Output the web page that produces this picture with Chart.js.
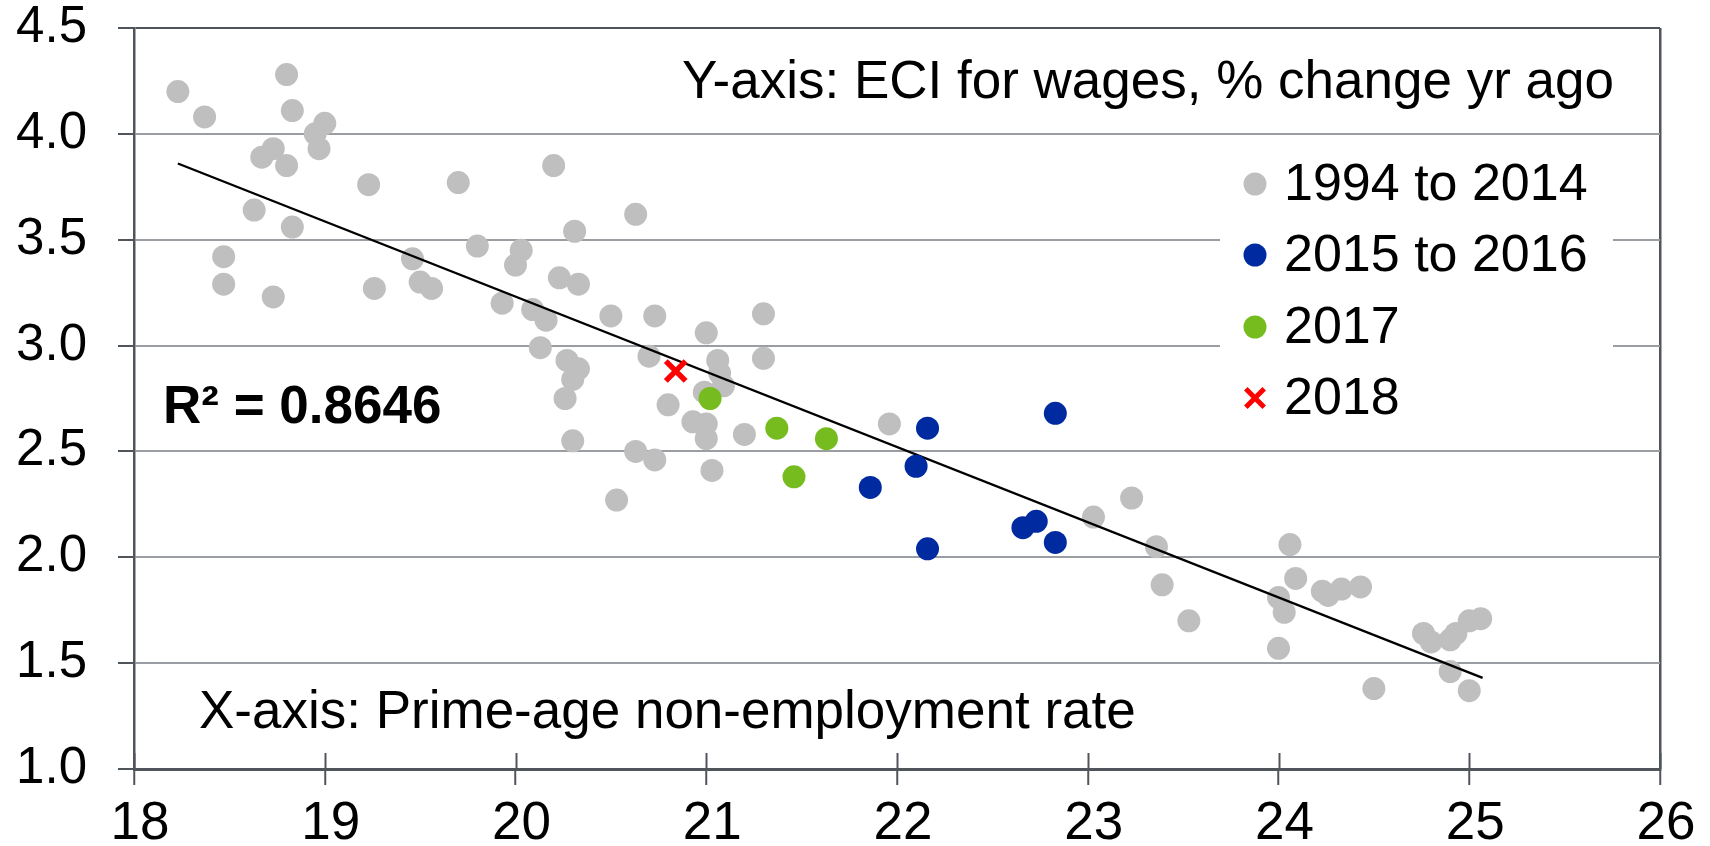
<!DOCTYPE html>
<html>
<head>
<meta charset="utf-8">
<script src="https://cdn.jsdelivr.net/npm/chart.js"></script>
<style>
  html, body { margin: 0; padding: 0; background: #fff; }
  #wrap { width: 1710px; height: 846px; }
</style>
</head>
<body>
<div id="wrap"><canvas id="chart" width="1710" height="846"></canvas></div>
<script>
// prime-age non-employment rate (x) vs ECI wages % chg yr ago (y)
const years1994to2014 = [
    [18.23, 4.20], [18.37, 4.08], [18.80, 4.28], [18.83, 4.11], [19.00, 4.05],
    [18.95, 4.00], [18.97, 3.93], [18.73, 3.93], [18.67, 3.89], [18.80, 3.85],
    [18.63, 3.64], [18.83, 3.56], [18.47, 3.42], [18.47, 3.29], [18.73, 3.23],
    [19.23, 3.76], [19.26, 3.27], [19.46, 3.41], [19.50, 3.30], [19.56, 3.27],
    [19.70, 3.77], [19.80, 3.47], [20.03, 3.45], [20.00, 3.38], [19.93, 3.20],
    [20.20, 3.85], [20.09, 3.17], [20.16, 3.12], [20.13, 2.99], [20.23, 3.32],
    [20.33, 3.29], [20.31, 3.54], [20.63, 3.62], [20.50, 3.14], [20.73, 3.14],
    [21.30, 3.15], [21.00, 3.06], [20.70, 2.95], [21.06, 2.93], [21.30, 2.94],
    [20.27, 2.93], [20.33, 2.89], [20.30, 2.84], [21.07, 2.87], [21.09, 2.81],
    [20.26, 2.75], [20.80, 2.72], [20.99, 2.78], [20.93, 2.64], [21.00, 2.63],
    [21.00, 2.56], [21.20, 2.58], [20.30, 2.55], [20.63, 2.50], [20.73, 2.46],
    [21.03, 2.41], [20.53, 2.27], [21.96, 2.63], [23.23, 2.28], [23.03, 2.19],
    [23.36, 2.05], [23.39, 1.87], [23.53, 1.70], [24.06, 2.06], [24.09, 1.90],
    [24.00, 1.81], [24.03, 1.74], [24.00, 1.57], [24.23, 1.84], [24.26, 1.82],
    [24.33, 1.85], [24.43, 1.86], [24.50, 1.38], [24.76, 1.64], [24.80, 1.60],
    [24.90, 1.61], [24.93, 1.64], [25.00, 1.70], [25.06, 1.71], [24.90, 1.46],
    [25.00, 1.37]
];
const years2015to2016 = [
    [22.16, 2.61], [22.10, 2.43], [21.86, 2.33], [22.16, 2.04],
    [22.83, 2.68], [22.66, 2.14], [22.73, 2.17], [22.83, 2.07]
];
const year2017 = [[21.02, 2.75], [21.37, 2.61], [21.63, 2.56], [21.46, 2.38]];
const year2018 = [[20.84, 2.88]];
const trendLine = [[18.23, 3.86], [25.07, 1.43]];

const seriesLabels = ['1994 to 2014', '2015 to 2016', '2017', '2018'];
const xTicks = [18, 19, 20, 21, 22, 23, 24, 25, 26];
const yTicks = [1.0, 1.5, 2.0, 2.5, 3.0, 3.5, 4.0, 4.5];

const FONT = '"Liberation Sans", Arial, sans-serif';
const NARROW = '"Liberation Sans Narrow", "Arial Narrow", "Liberation Sans", sans-serif';
const DARK = '#50555b';
const GRID = '#9a9ea3';
const colors = ['#bfbfbf', '#002a9f', '#77bc1f', '#ff0000'];

function toXY(arr) {
    return arr.map(p => ({ x: p[0], y: p[1] }));
}

// legend box, axis notes and crossing x ticks
const extras = {
    id: 'extras',
    beforeDatasetsDraw(chart) {
        const ctx = chart.ctx;
        ctx.save();
        ctx.fillStyle = '#fff';
        ctx.fillRect(1220, 150, 393, 280);
        // x ticks also poke up into the plot
        const xs = chart.scales.x;
        const bottom = chart.chartArea.bottom;
        ctx.strokeStyle = DARK;
        ctx.lineWidth = 2;
        xTicks.forEach(v => {
            const px = Math.round(xs.getPixelForValue(v)) + 0.5;
            ctx.beginPath();
            ctx.moveTo(px, bottom - 16);
            ctx.lineTo(px, bottom);
            ctx.stroke();
        });
        ctx.restore();
    },
    afterDatasetsDraw(chart) {
        const ctx = chart.ctx;
        ctx.save();
        ctx.fillStyle = '#000';
        ctx.textBaseline = 'alphabetic';
        ctx.font = '53px ' + FONT;
        ctx.textAlign = 'right';
        ctx.fillText('Y-axis: ECI for wages, % change yr ago', 1614, 98);
        ctx.textAlign = 'left';
        ctx.fillText('X-axis: Prime-age non-employment rate', 199, 728);
        ctx.font = 'bold 53px ' + FONT;
        ctx.fillText('R\u00b2 = 0.8646', 163, 423);

        // legend
        const rowY = [184, 255, 327, 398];
        ctx.font = '52px ' + FONT;
        ctx.textBaseline = 'middle';
        seriesLabels.forEach((lab, i) => {
            ctx.fillStyle = colors[i];
            ctx.strokeStyle = colors[i];
            ctx.lineWidth = 5;
            const style = i === 3 ? 'crossRot' : 'circle';
            Chart.helpers.drawPoint(ctx, {
                pointStyle: style, radius: i === 3 ? 13 : 11.5,
                borderWidth: i === 3 ? 5 : 0, rotation: 0
            }, 1255, rowY[i]);
            ctx.fillStyle = '#000';
            ctx.fillText(lab, 1284, rowY[i] + 2);
        });
        ctx.restore();
    }
};

const pointSet = (label, data, color, order) => ({
    type: 'scatter',
    label: label,
    data: toXY(data),
    backgroundColor: color,
    borderColor: color,
    borderWidth: 0,
    pointRadius: 11.5,
    pointHoverRadius: 11.5,
    order: order
});

new Chart(document.getElementById('chart').getContext('2d'), {
    type: 'scatter',
    data: {
        datasets: [
            pointSet(seriesLabels[0], years1994to2014, colors[0], 5),
            {
                type: 'line',
                label: 'trend',
                data: toXY(trendLine),
                borderColor: '#000',
                borderWidth: 2.4,
                pointRadius: 0,
                fill: false,
                order: 4
            },
            pointSet(seriesLabels[1], years2015to2016, colors[1], 3),
            pointSet(seriesLabels[2], year2017, colors[2], 2),
            {
                type: 'scatter',
                label: seriesLabels[3],
                data: toXY(year2018),
                borderColor: colors[3],
                backgroundColor: colors[3],
                pointStyle: 'crossRot',
                pointRadius: 14,
                borderWidth: 5.5,
                order: 1
            }
        ]
    },
    options: {
        responsive: false,
        animation: false,
        devicePixelRatio: 1,
        layout: { padding: { top: 0, right: 50, left: 0, bottom: 0 } },
        plugins: {
            legend: { display: false },
            tooltip: { enabled: false }
        },
        scales: {
            x: {
                type: 'linear',
                min: 18,
                max: 26,
                afterBuildTicks: (scale) => { scale.ticks = xTicks.map(v => ({ value: v })); },
                afterFit: (scale) => {
                    scale.height = 77;
                    scale.paddingLeft = 0;
                    scale.paddingRight = 0;
                },
                ticks: {
                    color: '#000',
                    font: { family: NARROW, size: 53 },
                    padding: 8,
                    labelOffset: 6,
                    maxRotation: 0
                },
                grid: {
                    color: (c) => (c.tick && c.tick.value === 26 ? DARK : 'rgba(0,0,0,0)'),
                    lineWidth: 2.5,
                    tickColor: DARK,
                    tickLength: 16,
                    tickWidth: 2
                },
                border: { display: true, color: DARK, width: 3 }
            },
            y: {
                min: 1,
                max: 4.5,
                afterBuildTicks: (scale) => { scale.ticks = yTicks.map(v => ({ value: v })); },
                afterFit: (scale) => {
                    scale.width = 134;
                    scale.paddingTop = 28;
                    scale.paddingBottom = 0;
                },
                ticks: {
                    color: '#000',
                    font: { family: FONT, size: 51 },
                    padding: 31,
                    callback: (v) => Number(v).toFixed(1)
                },
                grid: {
                    color: (c) => (c.tick && c.tick.value === 4.5 ? DARK : GRID),
                    lineWidth: 2,
                    tickColor: DARK,
                    tickLength: 16,
                    tickWidth: 2
                },
                border: { display: true, color: DARK, width: 2.5 }
            }
        }
    },
    plugins: [extras]
});
</script>
</body>
</html>
